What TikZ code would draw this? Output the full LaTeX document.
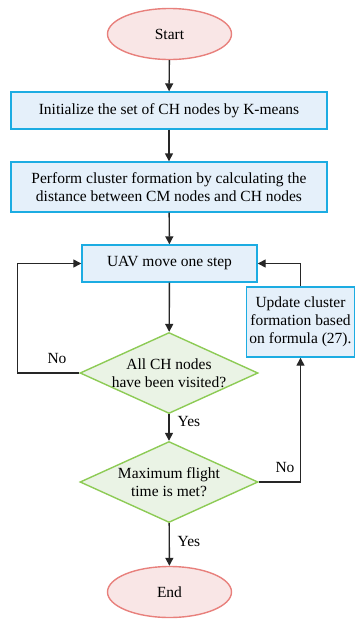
\documentclass[tikz,border=0pt]{standalone}
\usepackage{fontspec}
\setmainfont{Liberation Serif}
\usetikzlibrary{shapes.geometric, arrows.meta}
\definecolor{termline}{HTML}{E8807C}
\definecolor{termfill}{HTML}{F9E6E6}
\definecolor{procline}{HTML}{1CACE2}
\definecolor{procfill}{HTML}{E5F0FA}
\definecolor{condline}{HTML}{8DCB55}
\definecolor{condfill}{HTML}{EAF3E5}
\begin{document}
\begin{tikzpicture}[x = 1pt, y = -1pt, font = \fontsize{15.5}{18}\selectfont,
    term/.style = {ellipse, draw = termline, fill = termfill, line width = 1.4pt, minimum width = 124pt, minimum height = 51pt, inner sep = 0pt},
    proc/.style = {rectangle, draw = procline, fill = procfill, line width = 1.4pt, align = center, inner sep = 0pt},
    cond/.style = {diamond, draw = condline, fill = condfill, line width = 1.4pt, shape aspect = 2.2, minimum width = 178pt, minimum height = 81pt, inner sep = -9pt, align = center},
    flow/.style = {-{Triangle[length = 8pt, width = 8pt]}, line width = 1.4pt, draw = black!85},
    tag/.style = {inner sep = 0pt}]
  \useasboundingbox (0, 0) rectangle (355, 619);
  % nodes
  \node[term] (start) at (169.5, 34) {Start};
  \node[proc, minimum width = 316pt, minimum height = 37pt] (init) at (169, 110.5) {Initialize the set of CH nodes by K-means};
  \node[proc, minimum width = 316pt, minimum height = 50pt] (form) at (169, 187) {Perform cluster formation by calculating the\\distance between CM nodes and CH nodes};
  \node[proc, minimum width = 175pt, minimum height = 37pt] (uav) at (169.5, 263.5) {UAV move one step};
  \node[proc, minimum width = 108pt, minimum height = 70pt] (update) at (300.5, 322) {Update cluster\\formation based\\on formula (27).};
  \node[cond] (visited) at (169, 373) {All CH nodes\\have been visited?};
  \node[cond] (maxtime) at (169, 482) {Maximum flight\\time is met?};
  \node[term] (finish) at (169.5, 592) {End};
  % connectors
  \draw[flow] (start) -- (init);
  \draw[flow] (init) -- (form);
  \draw[flow] (form) -- (uav);
  \draw[flow] (uav) -- (visited);
  \draw[flow] (visited) -- (maxtime);
  \draw[flow] (maxtime) -- (finish);
  \draw[flow] (visited.west) -- ++(-62, 0) |- (uav.west);
  \draw[flow] (maxtime.east) -| (update.south);
  \draw[flow] (update.north) |- (uav.east);
  % labels
  \node[tag] (no1) at (57, 358) {No};
  \node[tag] (yes1) at (189, 421) {Yes};
  \node[tag] (no2) at (285, 467) {No};
  \node[tag] (yes2) at (189, 541) {Yes};
\end{tikzpicture}
\end{document}
